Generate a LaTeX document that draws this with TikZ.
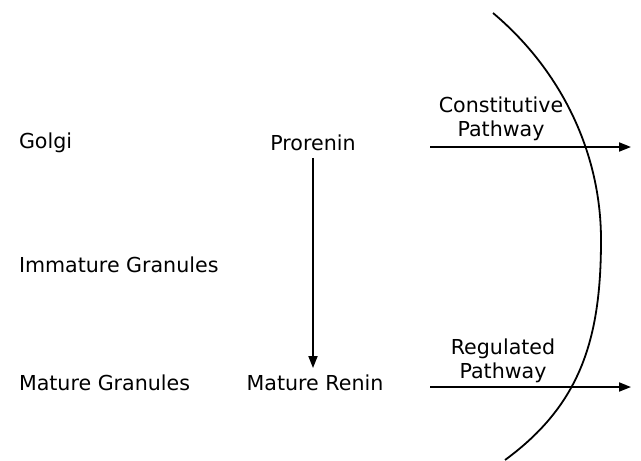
\documentclass[tikz,border=0pt]{standalone}
\usepackage{fontspec}
\setmainfont{DejaVu Sans}
\usepackage{tikz}
\usetikzlibrary{positioning,
                arrows.meta}                % arrow tips

\tikzset{
  lbl/.style={font=\fontsize{10.3}{12.3}\selectfont, inner sep=3.3pt},
  path/.style={-{Triangle[length=6pt,width=4.5pt]}, line width=0.9pt}
}

\begin{document}
\begin{tikzpicture}[x=0.5pt,y=-0.5pt]
      \useasboundingbox (0,0) rectangle (641,460);

      \node[lbl,anchor=west] (golgi) at (12,143) {Golgi};
      \node[lbl,anchor=west] (immature) at (12,265) {Immature Granules};
      \node[lbl,anchor=west] (mature) at (12,383) {Mature Granules};

      \node[lbl] (prorenin) at (313,143) {Prorenin};
      \node[lbl] (renin) at (315,383) {Mature Renin};
      \draw[path] (prorenin.south) -- (prorenin.south |- renin.north);

      \node[lbl,align=center] (constitutive) at (501,119) {Constitutive\\Pathway};
      \node[lbl,align=center] (regulated) at (503,361) {Regulated\\Pathway};

      \coordinate (cstart) at (430,147);
      \coordinate (cend) at (631,147);
      \coordinate (rstart) at (430,387);
      \coordinate (rend) at (631,387);
      \draw[path] (cstart) -- (cend);
      \draw[path] (rstart) -- (rend);

      % cell membrane
      \draw[line width=0.9pt] (493,13) .. controls (559,68.5) and (601,150) .. (601,240)
                                       .. controls (601,340) and (580,405) .. (505,460);
    \end{tikzpicture}
\end{document}
